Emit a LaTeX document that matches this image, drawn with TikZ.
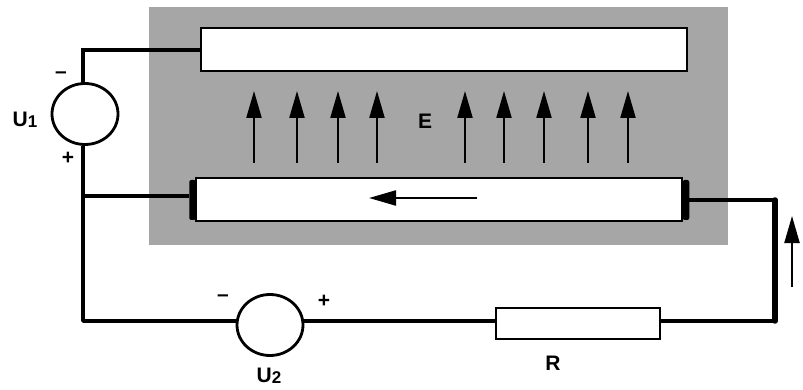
\documentclass[tikz,border=0pt]{standalone}
\usepackage{fontspec}
\setmainfont{Liberation Sans}
\usepackage{tikz}
\usetikzlibrary{arrows.meta,shapes.geometric}
\definecolor{fieldGray}{rgb}{0.65,0.65,0.65}
\newcommand{\voltlabel}[2]{#1\raisebox{-1pt}{\fontsize{17}{17}\selectfont #2}}
\tikzset{
	wire/.style={line width=3.4pt},
	fieldarrow/.style={line width=2.2pt,-{Triangle[length=27pt,width=15pt]}},
	plate/.style={draw,line width=2.8pt,fill=white,minimum width=#1,inner sep=0pt},
	source/.style={draw,ellipse,line width=2.8pt,minimum width=66pt,minimum height=61pt,inner sep=0pt},
	electrode/.style={fill=black,rounded corners=2pt,minimum width=6.5pt,minimum height=40pt,inner sep=0pt},
	lab/.style={font=\fontsize{21}{21}\selectfont\bfseries,inner sep=0pt},
}
\begin{document}
\begin{tikzpicture}[x=1pt,y=-1pt]
	\useasboundingbox (0,0) rectangle (803,390);
	\fill[fieldGray] (149,7) rectangle (728,245);
	% plates and sources
	\node[plate=486pt,minimum height=43pt] (top) at (444,49.5) {};
	\node[plate=486pt,minimum height=43pt] (bottom) at (439,199.5) {};
	\node[electrode] (left) at (192.5,200) {};
	\node[electrode] (right) at (686,200) {};
	\node[source] (U1) at (85,114) {};
	\node[source] (U2) at (270,325) {};
	\node[plate=164pt,minimum height=31pt] (R) at (578,323.5) {};
	% wire corners
	\coordinate (a) at (83,50);
	\coordinate (b) at (83,196);
	\coordinate (c) at (83,321);
	\coordinate (d) at (775,321);
	\coordinate (e) at (775,200);
	% wires
	\draw[wire,line cap=round] (top.west |- a) -- (a) -- (a |- U1.north);
	\draw[wire] (a |- U1.south) -- (c);
	\draw[wire] (b) -- (left.west |- b);
	\draw[wire,line join=round] (U2.west |- c) -- (c) -- (b);
	\draw[wire] (U2.east |- c) -- (R.west |- c);
	\draw[wire] (R.east |- c) -- (d);
	\draw[line width=5.5pt,line cap=round] (d) -- (e);
	\draw[wire,line cap=round] (right.east |- e) -- (e);
	% field arrows
	\foreach \x in {254,297,338,377,465,504,544,588,628}
		\draw[fieldarrow] (\x,163) -- (\x,91);
	\draw[fieldarrow] (477,198) -- (369,198);
	\draw[fieldarrow] (792,287) -- (792,216);
	% labels
	\node[lab] (Ulab) at (25,120) {\voltlabel{U}{1}};
	\node[lab] (Uminus) at (61,75) {–};
	\node[lab] (Uplus) at (68,158) {+};
	\node[lab] (E) at (425,121) {E};
	\node[lab] (Vlab) at (269,376) {\voltlabel{U}{2}};
	\node[lab] (Vminus) at (223,298) {–};
	\node[lab] (Vplus) at (324,301) {+};
	\node[lab] (Rlab) at (553,363) {R};
\end{tikzpicture}
\end{document}
